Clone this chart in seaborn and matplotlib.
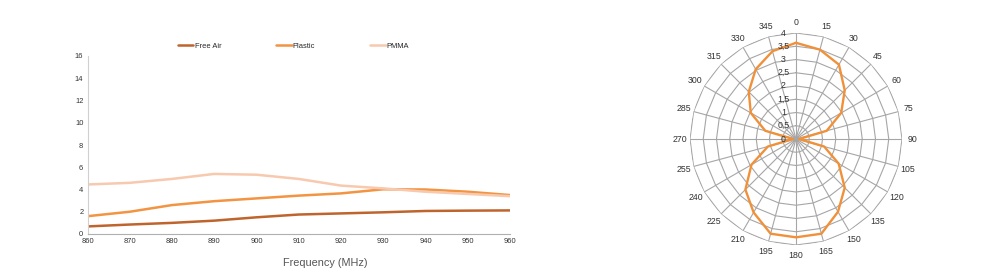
import numpy as np
import pandas as pd
import matplotlib
matplotlib.use("Agg")
import matplotlib.pyplot as plt
from matplotlib import font_manager
import seaborn as sns

# ---- data ----
freq = [860, 870, 880, 890, 900, 910, 920, 930, 940, 950, 960]
free_air = [0.68, 0.85, 1.0, 1.2, 1.5, 1.75, 1.85, 1.95, 2.07, 2.1, 2.12]
plastic = [1.6, 2.0, 2.6, 2.95, 3.2, 3.45, 3.65, 4.02, 4.0, 3.8, 3.5]
pmma = [4.45, 4.6, 4.95, 5.4, 5.33, 4.95, 4.35, 4.1, 3.8, 3.6, 3.4]
series_names = ["Free Air", "Plastic", "PMMA"]
y_ticks = [0, 2, 4, 6, 8, 10, 12, 14, 16]
x_ticks = [860, 870, 880, 890, 900, 910, 920, 930, 940, 950, 960]

angles_deg = [0, 15, 30, 45, 60, 75, 90, 105, 120, 135, 150, 165,
              180, 195, 210, 225, 240, 255, 270, 285, 300, 315, 330, 345]
radiation = [3.63, 3.49, 3.24, 2.6, 1.97, 1.2, 0.12, 1.1, 1.86, 2.6, 3.17, 3.7,
             3.71, 3.7, 3.2, 2.7, 1.94, 1.1, 0.12, 1.2, 1.97, 2.52, 3.04, 3.43]
r_ticks = [0, 0.5, 1, 1.5, 2, 2.5, 3, 3.5, 4]
r_tick_labels = ["0", "0,5", "1", "1,5", "2", "2,5", "3", "3,5", "4"]

colors = {"Free Air": "#BF642C", "Plastic": "#F39442", "PMMA": "#F7C9AE"}
polar_color = "#F0913A"

sns.set_theme(style="white")
plt.rcParams["font.family"] = ["Liberation Sans", "DejaVu Sans"]

def has_font(name):
    try:
        font_manager.findfont(name, fallback_to_default=False)
        return True
    except Exception:
        return False

narrow = has_font("Liberation Sans Narrow")

fig = plt.figure(figsize=(9.88, 2.77), dpi=100)

# ---- line chart ----
ax = fig.add_axes([87.5 / 988, (277 - 234) / 277, (510 - 87.5) / 988, (234 - 56) / 277])
df = pd.DataFrame({"freq": freq * 3,
                   "value": free_air + plastic + pmma,
                   "series": sum([[n] * len(freq) for n in series_names], [])})
sns.lineplot(data=df, x="freq", y="value", hue="series", palette=colors,
             linewidth=1.8, ax=ax, legend=False)
ax.set_xlim(860, 960)
ax.set_ylim(0, 16)
ax.set_xticks(x_ticks)
ax.set_yticks(y_ticks)
ax.tick_params(axis="both", labelsize=5.4, colors="#333333", length=0, pad=3)
for s in ["top", "right"]:
    ax.spines[s].set_visible(False)
ax.spines["left"].set_color("#D0D0D0")
ax.spines["bottom"].set_color("#B0B0B0")
ax.spines["left"].set_linewidth(0.8)
ax.spines["bottom"].set_linewidth(0.8)
ax.set_ylabel("")
if narrow:
    ax.set_xlabel("Frequency (MHz)", fontsize=9.5,
                  family=["Liberation Sans Narrow", "DejaVu Sans"], color="#555555")
else:
    ax.set_xlabel("Frequency (MHz)", fontsize=7.8, color="#555555")
ax.xaxis.set_label_coords((325 - 87.5) / 422.5, -0.135)
handles = [plt.Line2D([], [], color=colors[n], lw=1.8) for n in series_names]
ax.legend(handles, series_names, loc="center", bbox_to_anchor=((293.5 - 87.5) / 422.5, 1.055),
          ncol=3, frameon=False, fontsize=5.4, handlelength=2.1,
          handletextpad=0.15, columnspacing=7.3, borderpad=0)

# ---- polar (radar) chart ----
cx, cy, R = 796, 139, 106
pax = fig.add_axes([(cx - R) / 988, (277 - cy - R) / 277, 2 * R / 988, 2 * R / 277],
                   projection="polar")
pax.set_theta_zero_location("N")
pax.set_theta_direction(-1)
pax.set_ylim(0, 4)
pax.grid(False)
pax.spines["polar"].set_visible(False)
pax.set_xticks([])
pax.set_yticks([])
pax.set_facecolor("none")

th = np.deg2rad(angles_deg)
th_closed = np.append(th, th[0])
grid_c = "#A6A6A6"
for r in r_ticks[1:]:
    pax.plot(th_closed, [r] * len(th_closed), color=grid_c, lw=0.8, zorder=1)
for t in th:
    pax.plot([t, t], [0, 4], color=grid_c, lw=0.8, zorder=1)

rad_closed = radiation + [radiation[0]]
pax.plot(th_closed, rad_closed, color=polar_color, lw=1.7, zorder=3)

for a, t in zip(angles_deg, th):
    pax.text(t, 4.38, str(a), ha="center", va="center", fontsize=6.3, color="#333333")
for r, lab in zip(r_ticks, r_tick_labels):
    pax.annotate(lab, xy=(0, r), xytext=(-9.0, 0), textcoords="offset points",
                 ha="center", va="center", fontsize=6.3, color="#333333", zorder=4)

fig.savefig("out.png", dpi=100)
